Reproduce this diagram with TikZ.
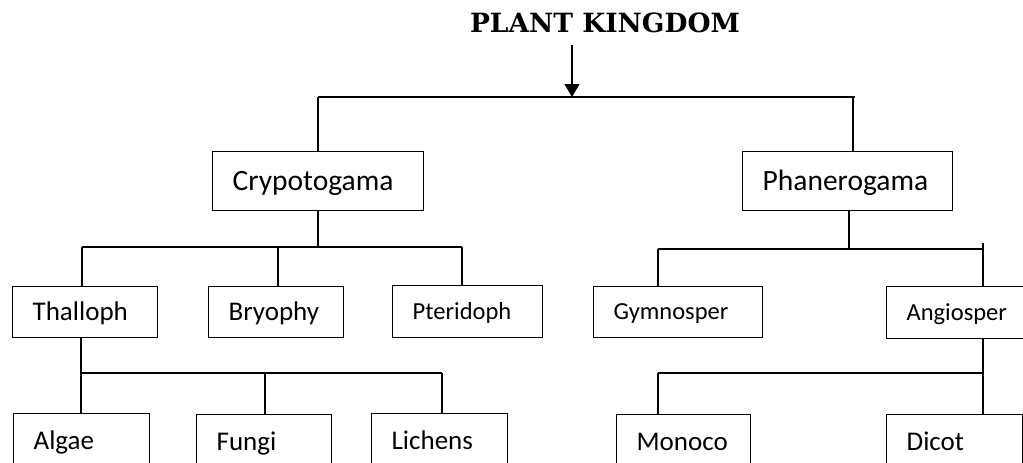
\documentclass[tikz,border=0pt]{standalone}
\usepackage{fontspec}
\setmainfont{Carlito}
\newfontfamily\titlefont{DejaVu Serif}
\usetikzlibrary{arrows.meta}
\newcommand{\boxtext}[2]{\makebox[#1pt][l]{#2}}
\begin{document}
\begin{tikzpicture}[x=1pt,y=-1pt,
  conn/.style={line width=1.3pt},
  box/.style={draw, line width=1.3pt, anchor=north west, inner xsep=20pt, inner ysep=0pt,
    text depth=0pt},
  fbig/.style={font=\fontsize{29.5pt}{34pt}\selectfont, text height=18.6pt},
  fmid/.style={font=\fontsize{27pt}{32pt}\selectfont, text height=17pt},
  fsml/.style={font=\fontsize{24.5pt}{29pt}\selectfont, text height=15.5pt}]
\useasboundingbox (0,0) rectangle (1023,463);
\clip (0,0) rectangle (1023,463);
% title
\node[anchor=base, inner sep=0pt, font=\titlefont\bfseries\fontsize{26.5pt}{30pt}\selectfont] (title) at (605,32) {PLANT KINGDOM};
% level 1
\node[box, fbig, minimum height=59pt] (crypt) at (212,151) {\boxtext{171}{Crypotogama}};
\node[box, fbig, minimum height=59pt] (phan) at (742,151) {\boxtext{170}{Phanerogama}};
% level 2
\node[box, fmid, minimum height=51pt] (thal) at (12,286) {\boxtext{105}{Thalloph}};
\node[box, fmid, minimum height=51pt] (bryo) at (208,286) {\boxtext{95}{Bryophy}};
\node[box, fsml, minimum height=52pt] (pter) at (392,285) {\boxtext{110}{Pteridoph}};
\node[box, fsml, minimum height=51pt] (gymn) at (593,286) {\boxtext{129}{Gymnosper}};
\node[box, fsml, minimum height=52pt] (angi) at (886,286) {\boxtext{110}{Angiosper}};
% level 3
\node[box, fmid, minimum height=55pt] (algae) at (13,413) {\boxtext{96}{Algae}};
\node[box, fmid, minimum height=55pt] (fungi) at (196,414) {\boxtext{95}{Fungi}};
\node[box, fmid, minimum height=55pt] (lich) at (371,413) {\boxtext{96}{Lichens}};
\node[box, fmid, minimum height=55pt] (mono) at (616,414) {\boxtext{94}{Monoco}};
\node[box, fmid, minimum height=55pt] (dicot) at (886,414) {\boxtext{96}{Dicot}};
% junction coordinates
\coordinate (a0) at (572,45);
\coordinate (a1) at (572,97);
\coordinate (h1l) at (318,97);
\coordinate (h1r) at (855,97);
\coordinate (h1p) at (853,97);
\coordinate (h2c) at (318,247);
\coordinate (h2l) at (82,247);
\coordinate (h2b) at (278,247);
\coordinate (h2r) at (462,247);
\coordinate (h3c) at (849,249);
\coordinate (h3l) at (658,249);
\coordinate (h3r) at (983,249);
\coordinate (h3t) at (983,243);
\coordinate (h4c) at (81,373);
\coordinate (h4f) at (265,373);
\coordinate (h4r) at (442,373);
\coordinate (h5l) at (658,373);
\coordinate (h5r) at (983,373);
% connectors
\draw[conn, -{Triangle[length=13pt,width=15pt]}] (a0) -- (a1);
\draw[conn] (h1l) -- (h1r);
\draw[conn] (h1l) -- (h1l |- crypt.north);
\draw[conn] (h1p) -- (h1p |- phan.north);
\draw[conn] (h2c |- crypt.south) -- (h2c);
\draw[conn] (h2l) -- (h2r);
\draw[conn] (h2l) -- (h2l |- thal.north);
\draw[conn] (h2b) -- (h2b |- bryo.north);
\draw[conn] (h2r) -- (h2r |- pter.north);
\draw[conn] (h3c |- phan.south) -- (h3c);
\draw[conn] (h3l) -- (h3r);
\draw[conn] (h3t) -- (h3t |- angi.north);
\draw[conn] (h3l) -- (h3l |- gymn.north);
\draw[conn] (h4c |- thal.south) -- (h4c |- algae.north);
\draw[conn] (h4c) -- (h4r);
\draw[conn] (h4f) -- (h4f |- fungi.north);
\draw[conn] (h4r) -- (h4r |- lich.north);
\draw[conn] (h5r |- angi.south) -- (h5r |- dicot.north);
\draw[conn] (h5l) -- (h5r);
\draw[conn] (h5l) -- (h5l |- mono.north);
\end{tikzpicture}
\end{document}
